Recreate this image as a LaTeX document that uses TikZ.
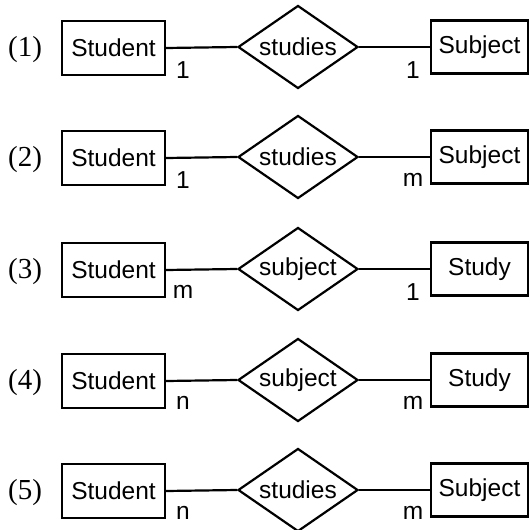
\documentclass[tikz,border=0pt]{standalone}
\usepackage{fontspec}
\setmainfont{Liberation Serif}
\newfontfamily\arialfont{Liberation Sans}
\usetikzlibrary{shapes.geometric}
\tikzset{
  ent/.style={draw, line width=2.2pt, rectangle, inner sep=0pt, font=\arialfont\fontsize{24.5}{27}\selectfont},
  rel/.style={draw, line width=2.2pt, diamond, inner sep=0pt, aspect=1.446, minimum width=120pt, minimum height=83pt, font=\arialfont\fontsize{24.5}{27}\selectfont},
  card/.style={inner sep=0pt, font=\arialfont\fontsize{24.5}{27}\selectfont},
  rowlab/.style={inner sep=0pt, font=\fontsize{29}{32}\selectfont},
  conn/.style={line width=2.2pt}
}
\begin{document}
\begin{tikzpicture}[x=1pt,y=-1pt]
\useasboundingbox (0,0) rectangle (530,530);
\foreach \i/\y/\r/\e/\a/\b in {1/48/studies/Subject/1/1, 2/158/studies/Subject/1/m, 3/270/subject/Study/m/1, 4/381/subject/Study/n/m, 5/491/studies/Subject/n/m}{
  \node[rowlab] (r\i) at (25,\y+2) {(\i)};
  \node[ent, minimum width=103pt, minimum height=54pt] (s\i) at (113.5,\y) {Student};
  \node[rel] (d\i) at (298,\y-1) {\r};
  \node[ent, minimum width=97pt, minimum height=53pt] (e\i) at (479.5,\y-1) {\e};
  \draw[conn] (s\i.east) -- (d\i.west);
  \draw[conn] (d\i.east) -- (e\i.west);
  \node[card] (ca\i) at (183,\y+22) {\a};
  \node[card] (cb\i) at (413,\y+22) {\b};
}
\end{tikzpicture}
\end{document}
